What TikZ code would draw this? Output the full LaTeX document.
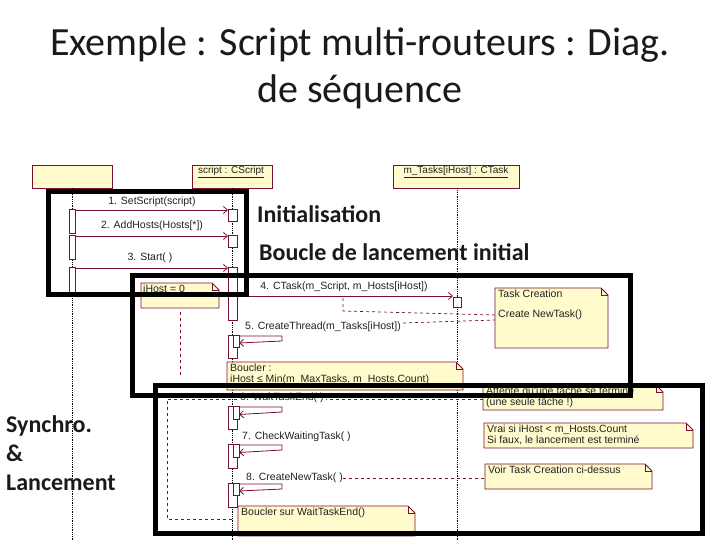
\documentclass[tikz,border=0pt]{standalone}
\usepackage{fontspec}
\setmainfont{Carlito}
\newfontfamily\smf{Liberation Sans}
\usetikzlibrary{arrows.meta,calc}
\definecolor{maroon}{HTML}{7A1030}
\definecolor{notey}{HTML}{FFFBCC}
\definecolor{txt}{HTML}{222222}
\definecolor{ttl}{HTML}{1A1A1A}
% note with dog-ear: name, x1, y1, x2, y2
\newcommand\mynote[5]{%
  \path[notebody] (#2,#3) -- (#4-7,#3) -- (#4,#3+7) -- (#4,#5) -- (#2,#5) -- cycle;
  \draw[notefold] (#4-7,#3) -- (#4-7,#3+7) -- (#4,#3+7);
  \coordinate (#1) at (#2,#3);}
\begin{document}
\begin{tikzpicture}[x=1pt,y=-1pt,
  lifebox/.style={draw=maroon,fill=notey,line width=0.9pt,minimum height=23pt,inner sep=0pt},
  lifeline/.style={densely dotted,line width=0.8pt,black},
  actbar/.style={draw=maroon,fill=white,line width=0.8pt,inner sep=0pt,outer sep=0pt},
  msg/.style={draw=maroon,line width=0.8pt,-{Straight Barb[length=4pt,width=7pt]}},
  selfmsg/.style={draw=maroon,line width=0.8pt,-{Straight Barb[length=4pt,width=7pt]}},
  anchorline/.style={draw=maroon,dashed,line width=0.7pt},
  notebody/.style={draw=maroon,fill=notey,line width=0.9pt},
  notefold/.style={draw=maroon,line width=0.7pt},
  lbl/.style={font=\smf\fontsize{10.5}{10.5}\selectfont,text=txt,inner sep=0pt},
  hdr/.style={font=\smf\fontsize{10}{10}\selectfont,text=txt,inner sep=0pt},
  frame/.style={draw=black,line width=5pt},
  big/.style={font=\bfseries\fontsize{24}{28}\selectfont,text=ttl,inner sep=0pt,anchor=west},
  title/.style={font=\fontsize{40}{44}\selectfont,text=ttl,inner sep=0pt}
]
\useasboundingbox[fill=white] (0,0) rectangle (720,540);

% title
\node[title] (t1) at (360,45) {Exemple : Script multi-routeurs : Diag.};
\node[title] (t2) at (360,92) {de séquence};

% lifeline headers
\node[lifebox,minimum width=80pt] (L1) at (72,176.5) {};
\node[lifebox,minimum width=80pt] (L2) at (232,176.5) {};
\node[lifebox,minimum width=126pt] (L3) at (456,176.5) {};
\node[hdr,anchor=north] (h2) at (231,166) {\underline{script : CScript}};
\node[hdr,anchor=north] (h3) at (456,166) {\underline{m\_Tasks[iHost] : CTask}};

% lifelines
\coordinate (e1) at (72,540);
\coordinate (e2) at (232,540);
\coordinate (e3) at (457,540);
\draw[lifeline] (L1.south -| e1) -- (e1);
\draw[lifeline] (L2.south -| e2) -- (e2);
\draw[lifeline] (L3.south -| e3) -- (e3);

% notes
\mynote{nih}{141}{283}{219}{308}
\node[lbl,anchor=north west] (tih) at (143,285) {iHost = 0};
\coordinate (ihs) at (180,312);
\coordinate (ihe) at (180,375);
\draw[anchorline] (ihs) -- (ihe);

\mynote{ntc}{495}{288}{608}{348}
\node[lbl,anchor=north west] (ttc1) at (498,290) {Task Creation};
\node[lbl,anchor=north west] (ttc2) at (498,310) {Create NewTask()};

\mynote{nbl}{227}{362}{463}{390}
\node[lbl,anchor=north west,align=left] (tbl) at (230,364) {Boucler :\\iHost ≤ Min(m\_MaxTasks, m\_Hosts.Count)};

\mynote{nat}{483}{385}{663}{410}
\node[lbl,anchor=north west,align=left] (tat) at (486,387) {Attente qu'une tâche se termine\\(une seule tâche !)};

\mynote{nvr}{484}{423}{693}{448}
\node[lbl,anchor=north west,align=left] (tvr) at (487,425) {Vrai si iHost < m\_Hosts.Count\\Si faux, le lancement est terminé};

\mynote{nvo}{485}{464}{652}{489}
\node[lbl,anchor=north west] (tvo) at (488,466) {Voir Task Creation ci-dessus};

\mynote{nbw}{238}{506}{415}{536}
\node[lbl,anchor=north west] (tbw) at (241,508) {Boucler sur WaitTaskEnd()};

% activation bars, lifeline 1
\node[actbar,minimum width=6pt,minimum height=24pt] (a1) at (72,221) {};
\node[actbar,minimum width=6pt,minimum height=24pt] (a2) at (72,247) {};
\node[actbar,minimum width=6pt,minimum height=28pt] (a3) at (72,281) {};
% lifeline 2
\node[actbar,minimum width=9pt,minimum height=12pt] (b1) at (232.5,215) {};
\node[actbar,minimum width=9pt,minimum height=12pt] (b2) at (232.5,241) {};
\node[actbar,minimum width=9pt,minimum height=53pt] (b3) at (232.5,293.5) {};
% lifeline 3
\node[actbar,minimum width=8pt,minimum height=10pt] (c1) at (457,302) {};

% messages 1-4
\draw[msg] ($(a1.north east)+(0,1)$) -- ($(b1.north west)+(0,1)$);
\node[lbl] (m1) at (152,202) {1. SetScript(script)};
\draw[msg] ($(a2.north east)+(0,1)$) -- ($(b2.north west)+(0,1)$);
\node[lbl] (m2) at (152,226) {2. AddHosts(Hosts[*])};
\draw[msg] ($(a3.north east)+(0,1)$) -- ($(b3.north west)+(0,1)$);
\node[lbl] (m3) at (150,258) {3. Start( )};
\draw[msg] ($(b3.east)+(0,2.5)$) -- (c1.west |- 0,296);
\node[lbl] (m4) at (344,287) {4. CTask(m\_Script, m\_Hosts[iHost])};

% note anchors for Task Creation
\coordinate (tca) at (495,315);
\coordinate (tcb) at (495,320);
\coordinate (m4a) at (343,298);
\coordinate (m4b) at (343,311);
\draw[anchorline] (tca) -- (m4b) -- (m4a);

% message 5 (self call)
\node[actbar,minimum width=9pt,minimum height=23pt] (b4) at (232.5,346.5) {};
\node[actbar,minimum width=6pt,minimum height=12pt] (b4i) at (236,341) {};
\node[lbl,anchor=west] (m5) at (245,327) {5. CreateThread(m\_Tasks[iHost])};
\draw[anchorline] (m5.east) ++(2,-4) coordinate (m5e) -- (tcb);
\draw[selfmsg] ($(b4i.north east)+(0,1)$) -- ++(43,0) -- ++(0,5) -- ($(b4i.east)+(0,2)$);

% loop frame (dashed)
\coordinate (lp1) at (483,399);
\coordinate (lp2) at (167,399);
\coordinate (lp3) at (167,519);
\coordinate (lp4) at (232,519);
\draw[anchorline] (lp1) -- (lp2) -- (lp3) -- (lp4);

% message 6
\node[actbar,minimum width=9pt,minimum height=23pt] (b6) at (232.5,417.5) {};
\node[actbar,minimum width=6pt,minimum height=13pt] (b6i) at (236,412.5) {};
\node[lbl,anchor=west,fill=white,inner xsep=2pt] (m6) at (238,398) {6. WaitTaskEnd( )};
\draw[selfmsg] ($(b6i.north east)+(0,1)$) -- ++(43,0) -- ++(0,5) -- ($(b6i.east)+(0,2)$);

% message 7
\node[actbar,minimum width=9pt,minimum height=24pt] (b7) at (232.5,456) {};
\node[actbar,minimum width=6pt,minimum height=13pt] (b7i) at (236,450.5) {};
\node[lbl,anchor=west] (m7) at (242,437) {7. CheckWaitingTask( )};
\draw[selfmsg] ($(b7i.north east)+(0,1)$) -- ++(43,0) -- ++(0,5) -- ($(b7i.east)+(0,2)$);

% message 8
\node[actbar,minimum width=9pt,minimum height=24pt] (b8) at (232.5,495) {};
\node[actbar,minimum width=6pt,minimum height=12pt] (b8i) at (236,489) {};
\node[lbl,anchor=west] (m8) at (246,478) {8. CreateNewTask( )};
\draw[selfmsg] ($(b8i.north east)+(0,1)$) -- ++(43,0) -- ++(0,5) -- ($(b8i.east)+(0,2)$);
\coordinate (vo) at (485,478);
\draw[anchorline] (m8.east) -- (vo);

% thick frames
\draw[frame] (48,192) rectangle (246,294);
\draw[frame] (132,275) rectangle (630,395);
\draw[frame] (155,385) rectangle (702,533);

% big labels
\node[big] (gi) at (257,214) {Initialisation};
\node[big] (gb) at (259,252) {Boucle de lancement initial};
\node[big] (gs1) at (6,426) {Synchro.};
\node[big] (gs2) at (6,453) {\&};
\node[big] (gs3) at (6,483) {Lancement};
\end{tikzpicture}
\end{document}
